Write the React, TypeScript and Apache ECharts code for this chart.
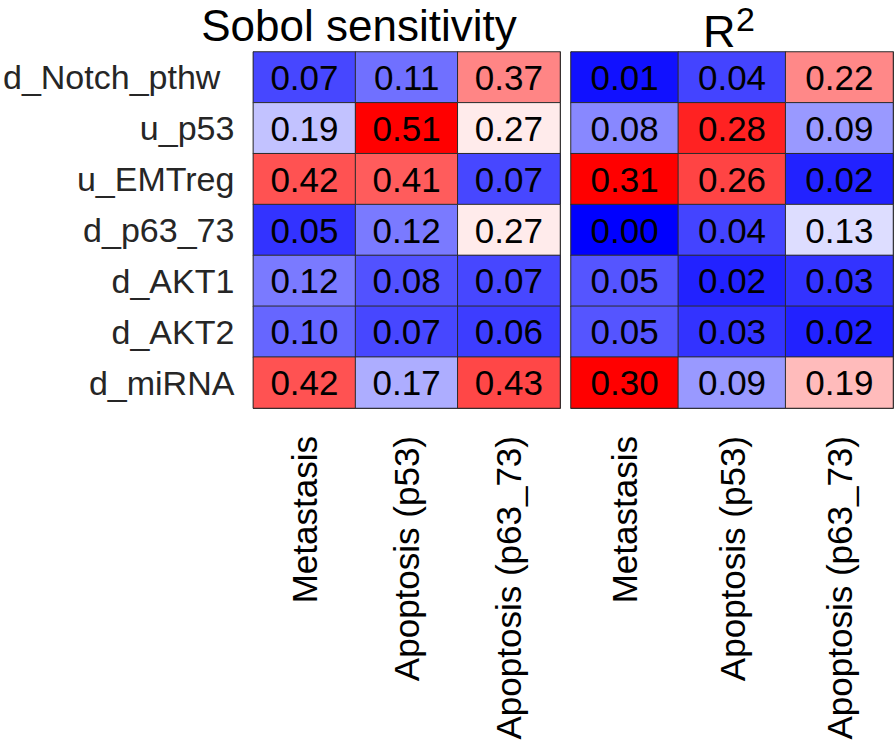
import React, { useEffect, useRef } from "react";
import * as echarts from "echarts";

const rowLabels = ["d_Notch_pthw", "u_p53", "u_EMTreg", "d_p63_73", "d_AKT1", "d_AKT2", "d_miRNA"];
const colLabels = ["Metastasis", "Apoptosis (p53)", "Apoptosis (p63_73)"];

// Sobol sensitivity, one array per column (rows top to bottom)
const sobolMetastasis = [0.07, 0.19, 0.42, 0.05, 0.12, 0.10, 0.42];
const sobolApoP53 = [0.11, 0.51, 0.41, 0.12, 0.08, 0.07, 0.17];
const sobolApoP63 = [0.37, 0.27, 0.07, 0.27, 0.07, 0.06, 0.43];

// R^2, one array per column
const r2Metastasis = [0.01, 0.08, 0.31, 0.00, 0.05, 0.05, 0.30];
const r2ApoP53 = [0.04, 0.28, 0.26, 0.04, 0.02, 0.03, 0.09];
const r2ApoP63 = [0.22, 0.09, 0.02, 0.13, 0.03, 0.02, 0.19];

const FONT = "'Liberation Sans', Arial, Helvetica, sans-serif";

function toCells(cols: number[][]) {
  const out: [number, number, number][] = [];
  cols.forEach((col, ci) => col.forEach((v, ri) => out.push([ci, ri, v])));
  return out;
}

export default function App() {
  const ref = useRef<HTMLDivElement>(null);
  useEffect(() => {
    if (!ref.current) return;
    const chart = echarts.init(ref.current, undefined, { renderer: "svg" });
    const grids = [
      { left: 253, top: 52, width: 307, height: 356 },
      { left: 571, top: 52, width: 322, height: 356 },
    ];
    const lineColor = "#2b2b2b";
    const tickStyle = { show: true, inside: true, alignWithLabel: true, length: 4, lineStyle: { color: "#555" } };
    const xAxes: any[] = [];
    const yAxes: any[] = [];
    grids.forEach((_, gi) => {
      xAxes.push({
        type: "category",
        gridIndex: gi,
        data: colLabels,
        position: "bottom",
        axisLine: { show: true, lineStyle: { color: lineColor, width: 1 } },
        axisTick: tickStyle,
        axisLabel: {
          rotate: 90,
          margin: 28,
          fontSize: 35,
          fontFamily: FONT,
          color: "#000",
        },
        splitLine: { show: false },
      });
      xAxes.push({
        type: "category",
        gridIndex: gi,
        data: colLabels,
        position: "top",
        axisLine: { show: true, lineStyle: { color: lineColor, width: 1 } },
        axisTick: tickStyle,
        axisLabel: { show: false },
      });
      yAxes.push({
        type: "category",
        gridIndex: gi,
        data: rowLabels,
        inverse: true,
        position: "left",
        axisLine: { show: true, lineStyle: { color: lineColor, width: 1 } },
        axisTick: tickStyle,
        axisLabel: {
          show: gi === 0,
          margin: 19,
          fontSize: 34,
          fontFamily: FONT,
          color: "#262626",
          formatter: (v: string, i: number) => (i === 0 ? `{wide|${v}}` : v),
          rich: {
            wide: { fontSize: 34, fontFamily: FONT, color: "#262626", padding: [0, 14, 0, 0] },
          },
        },
      });
      yAxes.push({
        type: "category",
        gridIndex: gi,
        data: rowLabels,
        inverse: true,
        position: "right",
        axisLine: { show: true, lineStyle: { color: lineColor, width: 1 } },
        axisTick: tickStyle,
        axisLabel: { show: false },
      });
    });

    const cellLabel = {
      show: true,
      fontSize: 35,
      fontFamily: FONT,
      color: "#000",
      formatter: (p: any) => Number(p.value[2]).toFixed(2),
    };

    chart.setOption({
      animation: false,
      backgroundColor: "#ffffff",
      grid: grids,
      xAxis: xAxes,
      yAxis: yAxes,
      visualMap: [
        {
          type: "continuous",
          show: false,
          seriesIndex: 0,
          dimension: 2,
          min: 0,
          max: 0.5,
          inRange: { color: ["#0000ff", "#ffffff", "#ff0000"] },
        },
        {
          type: "continuous",
          show: false,
          seriesIndex: 1,
          dimension: 2,
          min: 0,
          max: 0.3,
          inRange: { color: ["#0000ff", "#ffffff", "#ff0000"] },
        },
      ],
      graphic: [
        {
          type: "text",
          x: 359,
          y: 3,
          style: {
            text: "Sobol sensitivity",
            fontSize: 44,
            fontFamily: FONT,
            fill: "#000",
            textAlign: "center",
            textVerticalAlign: "top",
          },
        },
        {
          type: "text",
          x: 703,
          y: 9,
          style: {
            text: "R",
            fontSize: 45,
            fontFamily: FONT,
            fill: "#000",
            textAlign: "left",
            textVerticalAlign: "top",
          },
        },
        {
          type: "text",
          x: 736,
          y: 2,
          style: {
            text: "2",
            fontSize: 34,
            fontFamily: FONT,
            fill: "#000",
            textAlign: "left",
            textVerticalAlign: "top",
          },
        },
      ],
      series: [
        {
          type: "heatmap",
          xAxisIndex: 0,
          yAxisIndex: 0,
          data: toCells([sobolMetastasis, sobolApoP53, sobolApoP63]),
          label: cellLabel,
          itemStyle: { borderColor: lineColor, borderWidth: 1 },
          emphasis: { disabled: true },
        },
        {
          type: "heatmap",
          xAxisIndex: 2,
          yAxisIndex: 2,
          data: toCells([r2Metastasis, r2ApoP53, r2ApoP63]),
          label: cellLabel,
          itemStyle: { borderColor: lineColor, borderWidth: 1 },
          emphasis: { disabled: true },
        },
      ],
    });
    return () => chart.dispose();
  }, []);
  return (
    <div
      ref={ref}
      style={{ position: "fixed", left: 0, top: 0, width: 895, height: 754, background: "#fff" }}
    />
  );
}
